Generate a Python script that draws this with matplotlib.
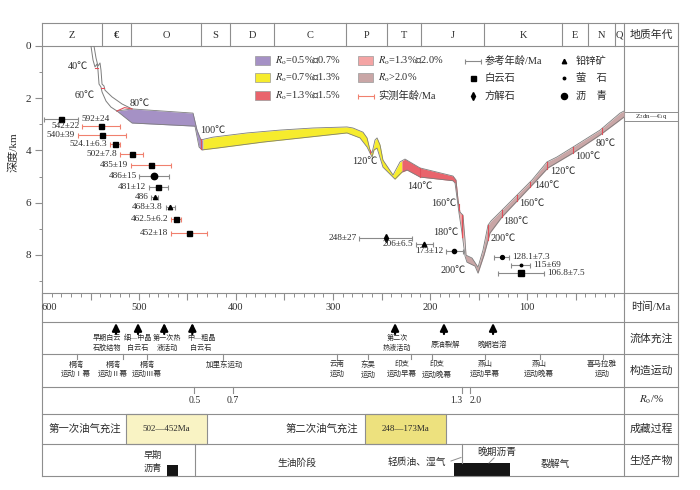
import numpy as np
import matplotlib
matplotlib.use('Agg')
import matplotlib.pyplot as plt
from matplotlib.patches import Rectangle
from matplotlib.transforms import blended_transform_factory

plt.rcParams['font.family'] = ['Liberation Serif', 'Noto Sans CJK SC']
plt.rcParams['mathtext.fontset'] = 'stix'
plt.rcParams['axes.unicode_minus'] = False

# ---------------- data ----------------
AGE_MAX, DEPTH_MAX = 600, 9.46

periods = ['Z', '€', 'O', 'S', 'D', 'C', 'P', 'T', 'J', 'K', 'E', 'N', 'Q']
period_bounds = [600, 538, 508, 436, 406, 361, 287, 244, 209, 144, 64, 37, 9, 0]

# early (unfilled) burial lines
early_top_ma = [546.4, 544.3, 542.3, 540.2, 539.2, 538.1, 536.1, 535.1, 527.8, 517.5, 507.2]
early_top_km = [0.00, 0.46, 0.77, 0.65, 0.92, 1.46, 1.53, 1.69, 1.95, 2.22, 2.41]
early_bot_ma = [549.5, 547.4, 545.4, 543.3, 542.3, 541.2, 539.2, 538.1, 534.0, 528.9, 522.7]
early_bot_km = [0.00, 0.54, 0.80, 0.69, 0.92, 1.46, 1.57, 1.76, 2.11, 2.34, 2.49]

# burial band (upper and lower boundary)
top_ma = [522.7, 507.2, 444.3, 440.2, 436.1, 432.0, 423.7, 388.7, 354.6, 320.6, 285.6, 279.4,
          269.1, 264.9, 261.9, 259.8, 256.7, 254.6, 251.5, 248.5, 238.1, 230.9, 225.8, 210.3,
          176.3, 173.2, 171.1, 169.1, 166.0, 163.9, 162.9, 156.7, 150.5, 145.4, 140.2, 137.1,
          127.8, 94.8, 79.4, 69.1, 52.6, 24.7, 4.1, 0.0]
top_km = [2.49, 2.41, 2.57, 3.22, 3.60, 3.56, 3.49, 3.33, 3.22, 3.14, 3.10, 3.14,
          3.30, 3.52, 3.98, 4.10, 3.60, 3.52, 3.79, 4.37, 4.94, 4.44, 4.33, 4.67,
          4.98, 5.13, 5.90, 6.36, 6.48, 7.43, 8.01, 8.12, 8.47, 7.82, 6.86, 6.70,
          6.36, 5.13, 4.44, 4.25, 3.87, 3.22, 2.57, 2.49]
bot_ma = [522.7, 507.2, 442.3, 438.1, 435.1, 419.6, 372.2, 285.6, 272.2, 264.9, 259.8, 257.7,
          254.6, 248.5, 236.1, 228.9, 223.7, 210.3, 176.3, 174.2, 170.1, 167.0, 163.9, 161.9,
          153.6, 150.5, 144.3, 138.1, 125.8, 91.8, 78.4, 52.6, 24.7, 0.0]
bot_km = [2.49, 2.95, 3.07, 3.87, 3.98, 3.91, 3.68, 3.33, 3.52, 3.87, 4.25, 3.98,
          3.91, 4.64, 5.10, 4.83, 4.75, 5.02, 5.16, 5.25, 6.40, 7.16, 8.05, 8.28,
          8.43, 8.70, 8.01, 7.16, 6.55, 5.21, 4.67, 4.10, 3.41, 2.72]

# Ro classes along the band
ro_break_ma = [522.7, 434.0, 229.0, 169.5, 165.5, 163.5, 0.0]
ro_colors = ['#a591c5', '#f6ec2d', '#e9646c', '#f4a4a4', '#f2dcdc', '#c9a6a6']

# isotherms
iso_band_ma = [436.5, 262.0, 210.0, 170.5, 166.5, 140.0, 125.8, 110.0, 97.0, 79.0, 52.6, 22.7]
iso_early = [(545.5, 541.8, 0.85), (539.5, 535.6, 1.62)]
temp_labels = ['40℃', '60℃', '80℃', '100℃', '120℃', '140℃', '160℃', '180℃', '200℃',
               '200℃', '180℃', '160℃', '140℃', '120℃', '100℃', '80℃']
temp_ma = [563, 555.7, 499, 423.7, 267, 210.3, 185.6, 183.5, 176.3,
           124.7, 111.3, 94.8, 79.4, 62.9, 37.1, 18.6]
temp_km = [0.80, 1.88, 2.22, 3.22, 4.44, 5.40, 6.02, 7.13, 8.58,
           7.36, 6.74, 6.02, 5.36, 4.79, 4.25, 3.72]

# dated samples
sample_age = [580.0, 539.0, 538.0, 524.7, 507.5, 487.6, 484.5, 480.0, 484.0, 468.0, 462.0, 448.5,
              245.7, 206.0, 175.0, 126.0, 106.5, 106.0]
sample_err = [17.5, 19.6, 25.0, 5.0, 12.0, 20.6, 15.0, 10.0, 3.3, 4.6, 5.0, 19.0,
              27.0, 8.6, 8.6, 7.7, 10.0, 24.0]
sample_depth = [2.80, 3.07, 3.40, 3.74, 4.15, 4.56, 4.97, 5.39, 5.80, 6.18, 6.64, 7.15,
                7.37, 7.59, 7.84, 8.10, 8.37, 8.69]
sample_mineral = ['dol', 'dol', 'dol', 'dol', 'dol', 'dol', 'bit', 'dol', 'pbzn', 'pbzn', 'dol', 'dol',
                  'cal', 'pbzn', 'bit', 'bit', 'flu', 'dol']
sample_size = [3.6, 3.6, 3.6, 3.6, 3.6, 3.6, 4.6, 3.6, 3.0, 3.2, 3.6, 3.6,
               4.2, 3.4, 3.0, 2.8, 1.8, 3.8]
sample_kind = ['ref', 'meas', 'meas', 'meas', 'meas', 'meas', 'ref', 'ref', 'ref', 'ref', 'meas', 'meas',
               'ref', 'ref', 'ref', 'ref', 'ref', 'ref']
sample_label = ['592±24', '542±22', '540±39', '524.1±6.3', '502±7.8', '485±19', '486±15', '481±12',
                '486', '468±3.8', '462.5±6.2', '452±18', '248±27', '206±6.5', '173±12',
                '128.1±7.3', '115±69', '106.8±7.5']
sample_side = ['r', 'l', 'l', 'l', 'l', 'l', 'l', 'l', 'l', 'l', 'l', 'l', 'l', 'l', 'l', 'r', 'r', 'r']

# lower panels
fluid_ma = [523.7, 501.0, 474.0, 445.0, 236.0, 185.6, 135.0]
fluid_text = ['早期白云\n石胶结物', '细—中晶\n白云石', '第一次热\n液活动', '中—粗晶\n白云石',
              '第二次\n热液活动', '原油裂解', '晚期岩溶']
fluid_text_ma = [533.0, 501.0, 471.0, 436.0, 234.0, 184.0, 136.0]

tect_ma = [564.0, 516.5, 491.8, 413.4, 295.9, 263.9, 219.6, 197.9, 143.3, 86.6, 21.6]
tect_text = ['桐湾\n运动Ⅰ幕', '桐湾\n运动Ⅱ幕', '桐湾\n运动Ⅲ幕', '加里东运动', '云南\n运动', '东吴\n运动',
             '印支\n运动早幕', '印支\n运动晚幕', '燕山\n运动早幕', '燕山\n运动晚幕', '喜马拉雅\n运动']
tect_text_ma = [565.0, 527.0, 491.8, 412.0, 295.9, 263.9, 229.0, 193.0, 143.3, 87.5, 22.7]

ro_tick_ma = [443.0, 403.0, 167.0, 159.0]
ro_tick_text = ['0.5', '0.7', '1.3', '2.0']

charge_ma = [(513.4, 429.9), (267.0, 183.5)]
charge_text = ['502—452Ma', '248—173Ma']
charge_colors = ['#f9f3c4', '#ede17e']
charge_title = ['第一次油气充注', '第二次油气充注']
charge_title_ma = [556.0, 312.0]

bitumen_ma = [(471.0, 459.8), (175.3, 117.5)]

# ---------------- figure ----------------
W, H = 700, 490
X0, X1, Y0, Y1 = 42, 624, 46, 293
XR, YT = 678, 23
LC = '#8e8e8e'
TC = '#2b2b2b'
RED = '#f0806e'
GREY = '#8a8a8a'

fig = plt.figure(figsize=(W / 100, H / 100), dpi=100)
bg = fig.add_axes([0, 0, 1, 1], zorder=0)
bg.set_xlim(0, W)
bg.set_ylim(H, 0)
bg.axis('off')
ax = fig.add_axes([X0 / W, 1 - Y1 / H, (X1 - X0) / W, (Y1 - Y0) / H], zorder=1)
ax.set_xlim(AGE_MAX, 0)
ax.set_ylim(DEPTH_MAX, 0)
ax.patch.set_visible(False)
for s in ax.spines.values():
    s.set_visible(False)
tr = blended_transform_factory(ax.transData, bg.transData)

# frame lines
for y in [YT, Y0, Y1, 322, 354, 387, 414, 444, 476]:
    bg.plot([X0, XR], [y, y], color=LC, lw=0.8)
for x in [X0, X1, XR]:
    bg.plot([x, x], [YT, 476], color=LC, lw=0.8)
bg.plot([X1, XR], [112, 112], color=LC, lw=0.7)
bg.plot([X1, XR], [121, 121], color=LC, lw=0.7)

# period header
for b in period_bounds[1:-1]:
    bg.plot([b, b], [YT, Y0], color=LC, lw=0.8, transform=tr)
for i, p in enumerate(periods):
    mid = 0.5 * (period_bounds[i] + period_bounds[i + 1])
    bg.text(mid, 35, p, transform=tr, ha='center', va='center', fontsize=7.5, color=TC,
            fontweight='bold' if p == '€' else 'normal')

# right label column
col_labels = [('地质年代', 35), ('时间/Ma', 307), ('流体充注', 338), ('构造运动', 371),
              (r'$R_{\rm o}$/%', 400), ('成藏过程', 429), ('生烃产物', 460)]
for t, y in col_labels:
    bg.text(651, y, t, ha='center', va='center', fontsize=7.8, color=TC)
bg.text(651, 116.5, r'Z$_2$dn—€$_1$q', ha='center', va='center', fontsize=5, color=TC)

# ---------------- burial band ----------------
top_ma_a, top_km_a = np.array(top_ma), np.array(top_km)
bot_ma_a, bot_km_a = np.array(bot_ma), np.array(bot_km)


def edges(g):
    t = np.interp(g, top_ma_a[::-1], top_km_a[::-1])
    b = np.interp(g, bot_ma_a[::-1], bot_km_a[::-1])
    return t, b


allx = np.unique(np.concatenate([top_ma_a, bot_ma_a]))
for hi, lo, col in zip(ro_break_ma[:-1], ro_break_ma[1:], ro_colors):
    g = np.unique(np.concatenate([[lo, hi], allx[(allx > lo) & (allx < hi)]]))
    t, b = edges(g)
    ax.fill_between(g, t, b, color=col, lw=0, zorder=2)

ax.plot(top_ma, top_km, color='#7d7d7d', lw=0.6, zorder=3)
ax.plot(bot_ma, bot_km, color='#7d7d7d', lw=0.6, zorder=3)
ax.plot(early_top_ma, early_top_km, color='#7d7d7d', lw=0.7, zorder=3)
ax.plot(early_bot_ma, early_bot_km, color='#7d7d7d', lw=0.7, zorder=3)

# isotherms
for m in iso_band_ma:
    t, b = edges(np.array([m]))
    ax.plot([m, m], [t[0], b[0]], color='#e0505a', lw=0.8, zorder=4)
for a, b, d in iso_early:
    ax.plot([a, b], [d, d], color='#e0505a', lw=0.8, zorder=4)
ax.plot([522.7, 515.0, 507.2], [2.49, 2.36, 2.41], color='#e0505a', lw=0.8, zorder=4)
for t, m, d in zip(temp_labels, temp_ma, temp_km):
    ax.text(m, d, t, ha='center', va='center', fontsize=7.3, color=TC, zorder=5)

# ---------------- samples ----------------
mk = {'dol': 's', 'cal': 'd', 'pbzn': '^', 'flu': 'o', 'bit': 'o'}
for a, e, d, mn, ms, kd, lab, side in zip(sample_age, sample_err, sample_depth, sample_mineral,
                                           sample_size, sample_kind, sample_label, sample_side):
    c = RED if kd == 'meas' else GREY
    ax.errorbar(a, d, xerr=e, fmt='none', ecolor=c, elinewidth=0.8, capsize=1.8, capthick=0.8, zorder=5)
    ax.plot(a, d, marker=mk[mn], ms=ms, color='black', ls='none', zorder=6)
    if side == 'l':
        ax.annotate(lab, (a + e, d), xytext=(-2, 0), textcoords='offset points',
                    ha='right', va='center', fontsize=6.7, color=TC, zorder=6)
    else:
        ax.annotate(lab, (a - e, d), xytext=(2, 0), textcoords='offset points',
                    ha='left', va='center', fontsize=6.7, color=TC, zorder=6)

# ---------------- axes ticks ----------------
xt = np.arange(0, 601, 50)
ax.set_xticks(xt)
xl = ax.set_xticklabels([str(v) if (v % 100 == 0 and v > 0) else '' for v in xt])
xl[-1].set_horizontalalignment('left')
ax.set_xticks(np.arange(0, 600, 10), minor=True)
ax.tick_params(axis='x', which='major', direction='out', length=5, width=0.8, colors=LC,
               labelcolor=TC, labelsize=7.5, pad=2.5)
ax.tick_params(axis='x', which='minor', direction='out', length=2.8, width=0.7, colors=LC)
ax.set_yticks([0, 2, 4, 6, 8])
ax.set_yticks([1, 3, 5, 7, 9], minor=True)
ax.tick_params(axis='y', which='major', direction='out', length=5, width=0.8, colors=LC,
               labelcolor=TC, labelsize=8, pad=3)
ax.tick_params(axis='y', which='minor', direction='out', length=2.5, width=0.7, colors=LC)
bg.text(13, 152, '深度/km', rotation=90, ha='center', va='center', fontsize=8, color=TC)

# ---------------- legend ----------------
LF = 7.4
leg_y = [61, 78, 96]
ro_leg = [r'$R_{\rm o}$=0.5%～0.7%', r'$R_{\rm o}$=0.7%～1.3%', r'$R_{\rm o}$=1.3%～1.5%']
for y, c, t in zip(leg_y, [ro_colors[0], ro_colors[1], ro_colors[2]], ro_leg):
    bg.add_patch(Rectangle((255, y - 4.5), 15, 9, fc=c, ec='#999', lw=0.5))
    bg.text(275, y, t, va='center', fontsize=LF, color=TC)
for y, c, t in zip(leg_y[:2], [ro_colors[3], ro_colors[5]], [r'$R_{\rm o}$=1.3%～2.0%', r'$R_{\rm o}$>2.0%']):
    bg.add_patch(Rectangle((358, y - 4.5), 15, 9, fc=c, ec='#999', lw=0.5))
    bg.text(378, y, t, va='center', fontsize=LF, color=TC)
bg.errorbar(366, 96, xerr=8, fmt='none', ecolor=RED, elinewidth=0.8, capsize=1.8, capthick=0.8)
bg.text(378, 96, '实测年龄/Ma', va='center', fontsize=LF, color=TC)
bg.errorbar(473, 61, xerr=8, fmt='none', ecolor=GREY, elinewidth=0.8, capsize=1.8, capthick=0.8)
bg.text(485, 61, '参考年龄/Ma', va='center', fontsize=LF, color=TC)
bg.plot(473, 78, marker='s', ms=3.6, color='black')
bg.text(485, 78, '白云石', va='center', fontsize=LF, color=TC)
bg.plot(473, 96, marker='d', ms=4.2, color='black')
bg.text(485, 96, '方解石', va='center', fontsize=LF, color=TC)
bg.plot(564, 61, marker='^', ms=3.2, color='black')
bg.text(576, 61, '铅锌矿', va='center', fontsize=LF, color=TC)
bg.plot(564, 78, marker='o', ms=1.8, color='black')
bg.text(576, 78, '萤　石', va='center', fontsize=LF, color=TC)
bg.plot(564, 96, marker='o', ms=4.4, color='black')
bg.text(576, 96, '沥　青', va='center', fontsize=LF, color=TC)

# ---------------- fluid row ----------------
for m in fluid_ma:
    bg.annotate('', xy=(m, 323), xytext=(m, 334), xycoords=tr, textcoords=tr,
                arrowprops=dict(arrowstyle='-|>,head_width=0.22,head_length=0.45', color='black',
                                lw=1.6, shrinkA=0, shrinkB=0))
for t, m in zip(fluid_text, fluid_text_ma):
    if '\n' in t:
        bg.text(m, 334, t, transform=tr, ha='center', va='top', fontsize=5.1, color=TC, linespacing=1.45)
    else:
        bg.text(m, 344, t, transform=tr, ha='center', va='center', fontsize=5.3, color=TC)

# ---------------- tectonic row ----------------
for m in tect_ma:
    bg.plot([m, m], [354, 359], color=LC, lw=0.8, transform=tr)
for t, m in zip(tect_text, tect_text_ma):
    bg.text(m, 360, t, transform=tr, ha='center', va='top', fontsize=5.4, color=TC, linespacing=1.45)

# ---------------- Ro row ----------------
ro_dx = [0, 0, -4, 4]
for m, t, dx in zip(ro_tick_ma, ro_tick_text, ro_dx):
    bg.plot([m, m], [387, 393], color=LC, lw=0.8, transform=tr)
    bg.annotate(t, (m, 400), xycoords=tr, xytext=(dx, 0), textcoords='offset points',
                ha='center', va='center', fontsize=7, color=TC)

# ---------------- accumulation row ----------------
for (a, b), t, c in zip(charge_ma, charge_text, charge_colors):
    bg.add_patch(Rectangle((a, 414), b - a, 30, transform=tr, fc=c, ec=LC, lw=0.8))
    bg.text(0.5 * (a + b), 429, t, transform=tr, ha='center', va='center', fontsize=6.5, color=TC)
for t, m in zip(charge_title, charge_title_ma):
    bg.text(m, 429, t, transform=tr, ha='center', va='center', fontsize=7.5, color=TC)

# ---------------- hydrocarbon row ----------------
bg.plot([442.3, 442.3], [444, 476], color=LC, lw=0.8, transform=tr)
bg.plot([167.0, 167.0], [444, 463], color=LC, lw=0.8, transform=tr)
bg.add_patch(Rectangle((bitumen_ma[0][0], 465), bitumen_ma[0][1] - bitumen_ma[0][0], 11,
                       transform=tr, fc='#151515', ec='none'))
bg.add_patch(Rectangle((bitumen_ma[1][0], 463), bitumen_ma[1][1] - bitumen_ma[1][0], 13,
                       transform=tr, fc='#151515', ec='none'))
bg.text(153, 462, '早期\n沥青', ha='center', va='center', fontsize=6.6, color=TC, linespacing=1.5)
bg.text(297, 463, '生油阶段', ha='center', va='center', fontsize=7, color=TC)
bg.text(417, 462, '轻质油、湿气', ha='center', va='center', fontsize=7, color=TC)
bg.text(497, 452, '晚期沥青', ha='center', va='center', fontsize=7, color=TC)
bg.text(555, 464, '裂解气', ha='center', va='center', fontsize=7, color=TC)
bg.plot([451, 461], [461, 457.5], color=LC, lw=0.7)
bg.plot([489, 494], [463, 458], color=LC, lw=0.7)

bg.set_xlim(0, W)
bg.set_ylim(H, 0)
ax.set_xlim(AGE_MAX, 0)
ax.set_ylim(DEPTH_MAX, 0)
fig.savefig('out.png', dpi=100)
